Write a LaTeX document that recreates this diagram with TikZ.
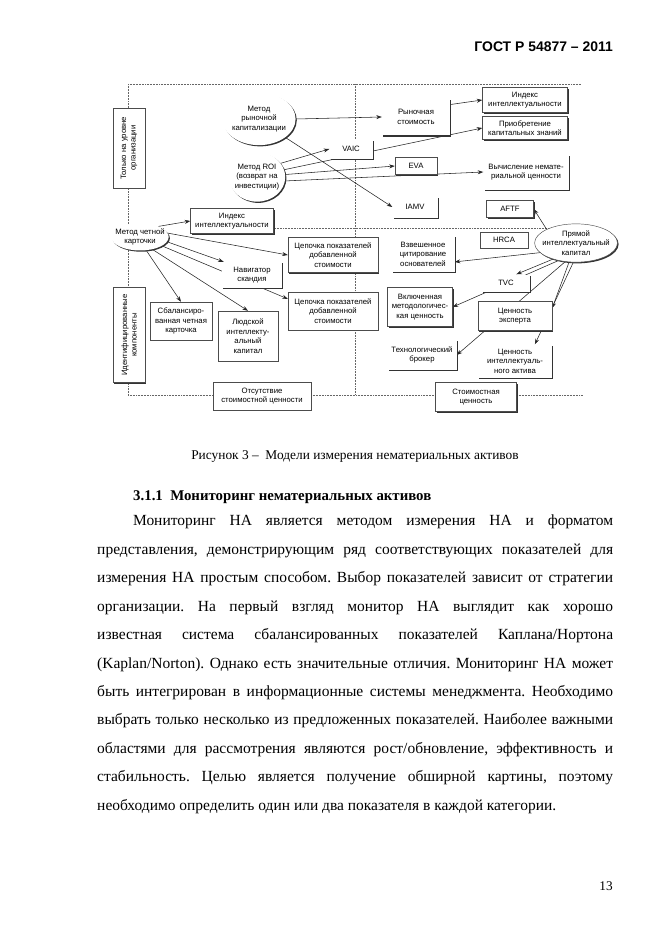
\documentclass[tikz,border=0pt]{standalone}
\usepackage{fontspec}
\setmainfont{Liberation Serif}
\setsansfont{Liberation Sans}
\usetikzlibrary{shapes,arrows,arrows.meta,backgrounds,shadows}

\newcommand{\dgfont}{\sffamily\fontsize{7}{8.6}\selectfont}

\tikzset{
  sz/.style 2 args={minimum width=#1*0.3177mm, minimum height=#2*0.3177mm},
  boxshadow/.style={drop shadow={shadow xshift=1.1pt, shadow yshift=-1.1pt, fill=black!80, opacity=1}},
  box/.style={draw=black!70, thin, fill=white, boxshadow, font=\dgfont, align=center, inner sep=1pt},
  flat/.style={fill=white, boxshadow, font=\dgfont, align=center, inner sep=1pt},
  oval/.style={ellipse, fill=white, boxshadow, font=\dgfont, align=center, inner xsep=-4pt, inner ysep=1pt},
  lnk/.style={-{Stealth[length=5pt, width=3.6pt]}, black!85, line width=0.5pt},
  guide/.style={densely dotted, black!60, line width=0.4pt},
}

\begin{document}
\begin{tikzpicture}[x=0.3177mm, y=-0.3177mm]
\useasboundingbox (0,0) rectangle (661,935);
% page header
\node[anchor=east, inner sep=0, font=\sffamily\bfseries\fontsize{12.6}{14}\selectfont] (hdr) at (613,47) {ГОСТ Р 54877 – 2011};

% methods
\node[oval, inner xsep=-1pt, inner ysep=5pt] (mkap) at (259,119) {Метод\\рыночной\\капитализации};
\node[oval, inner xsep=-2pt, inner ysep=4pt] (roi) at (257,177) {Метод ROI\\(возврат на\\инвестиции)};
\node[oval] (msc) at (140,237) {Метод четной\\карточки};
\node[oval, draw=black!70] (dic) at (576,243) {Прямой\\интеллектуальный\\капитал};

% measures
\node[flat, sz={68}{37}] (mval) at (416,117) {Рыночная\\стоимость};
\node[box, sz={85}{25}] (iint) at (525,100) {Индекс\\интеллектуальности};
\node[box, sz={85}{23}] (acq) at (525,128) {Приобретение\\капитальных знаний};
\node[flat, sz={43}{19}] (vaic) at (351,149) {VAIC};
\node[box, sz={42}{17}] (eva) at (416,166) {EVA};
\node[flat, sz={85}{35}] (calc) at (526,172) {Вычисление немате-\\риальной ценности};
\node[flat, sz={45}{21}] (iamv) at (415,207) {IAMV};
\node[box, sz={47}{17}] (aftf) at (510,209) {AFTF};
\node[box, sz={83}{25}] (iint2) at (232,221) {Индекс\\интеллектуальности};
\node[box, sz={48}{16}] (hrca) at (504,240) {HRCA};
\node[box, sz={90}{35}] (chain1) at (333,255) {Цепочка показателей\\добавленной\\стоимости};
\node[flat, sz={63}{36}] (wcit) at (423,254) {Взвешенное\\цитирование\\основателей};
\node[flat, sz={60}{26}] (nav) at (252,275) {Навигатор\\скандия};
\node[flat, sz={48}{17}] (tvc) at (506,283) {TVC};
\node[box, sz={90}{38}] (chain2) at (333,311) {Цепочка показателей\\добавленной\\стоимости};
\node[box, sz={65}{39}] (incl) at (420,307) {Включенная\\методологичес-\\кая ценность};
\node[box, sz={74}{29}] (expv) at (515,316) {Ценность\\эксперта};
\node[box, sz={62}{38}] (bsc) at (181,321) {Сбалансиро-\\ванная четная\\карточка};
\node[box, sz={60}{50}] (hum) at (248,336) {Людской\\интеллекту-\\альный\\капитал};
\node[flat, sz={69}{30}] (tbro) at (422,355) {Технологический\\брокер};
\node[flat, sz={74}{33}] (iav) at (515,361) {Ценность\\интеллектуаль-\\ного актива};

% axes labels
\node[box, sz={98}{28}] (noval) at (262,396) {Отсутствие\\стоимостной ценности};
\node[box, sz={81}{29}] (val) at (476,397) {Стоимостная\\ценность};
\node[box, rotate=90, sz={80}{32}] (orgl) at (129,148) {Только на уровне\\организации};
\node[box, rotate=90, sz={95}{32}] (idc) at (129,335) {Идентифицированные\\компоненты};

\begin{scope}[on background layer]
  \coordinate (tl) at (128,84);
  \coordinate (tr) at (581,84);
  \coordinate (tm) at (355,84);
  \coordinate (bl) at (128,395);
  \coordinate (bm) at (355,395);
  \coordinate (br) at (583,395);
  \coordinate (mr) at (581,228);
  \draw[guide] (tl) -- (tr);
  \draw[guide] (tl) -- (bl) -- (br);
  \draw[guide] (tm) -- (bm);
  \draw[guide] (iint2.east |- mr) -- (mr);
  % links
  \draw[lnk] (mkap.east) -- (mval.west);
  \draw[lnk] (mkap.-35) -- (iamv.west);
  \draw[lnk] (mval.20) -- (iint.west);
  \draw[lnk] (roi.30) -- (vaic.west);
  \draw[lnk] (roi.15) -- (acq.west);
  \draw[lnk] (roi.5) -- (eva.west);
  \draw[lnk] (roi.-8) -- (calc.west);
  \draw[lnk] (msc.30) -- (iint2.west);
  \draw[lnk] (msc.8) -- (chain1.west);
  \draw[lnk] (msc.-10) -- (nav.155);
  \draw[lnk] (msc.-22) -- (chain2.165);
  \draw[lnk] (msc.-45) -- (hum.north);
  \draw[lnk] (msc.-65) -- (bsc.north);
  \draw[lnk] (dic.155) -- (aftf.east);
  \draw[lnk] (dic.195) -- (wcit.-14);
  \draw[lnk] (dic.215) -- (tvc.40);
  \draw[lnk] (dic.225) -- (incl.east);
  \draw[lnk] (dic.240) -- (tbro.east);
  \draw[lnk] (dic.250) -- (expv.12);
  \draw[lnk] (dic.262) -- (iav.40);
\end{scope}

% caption and text
\node[font=\fontsize{12.1}{14}\selectfont] (cap) at (355,457) {Рисунок 3 –\ \ Модели измерения нематериальных активов};
\node[anchor=west, inner sep=0, font=\bfseries\fontsize{13.4}{16}\selectfont] (sec) at (133,497) {3.1.1\ \ Мониторинг нематериальных активов};
\node[anchor=north west, inner sep=0, text width=163.9mm, align=justify, font=\fontsize{14}{25.7}\selectfont\frenchspacing] (body) at (97,515) {%
\hspace*{11.4mm}Мониторинг НА является методом измерения НА и форматом\linebreak
представления, демонстрирующим ряд соответствующих показателей для\linebreak
измерения НА простым способом. Выбор показателей зависит от стратегии\linebreak
организации. На первый взгляд монитор НА выглядит как хорошо\linebreak
известная система сбалансированных показателей Каплана/Нортона\linebreak
(Kaplan/Norton). Однако есть значительные отличия. Мониторинг НА может\linebreak
быть интегрирован в информационные системы менеджмента. Необходимо\linebreak
выбрать только несколько из предложенных показателей. Наиболее важными\linebreak
областями для рассмотрения являются рост/обновление, эффективность и\linebreak
стабильность. Целью является получение обширной картины, поэтому\linebreak
необходимо определить один или два показателя в каждой категории.};
\node[font=\fontsize{12}{14}\selectfont] (pgno) at (606,886) {13};
\end{tikzpicture}
\end{document}
